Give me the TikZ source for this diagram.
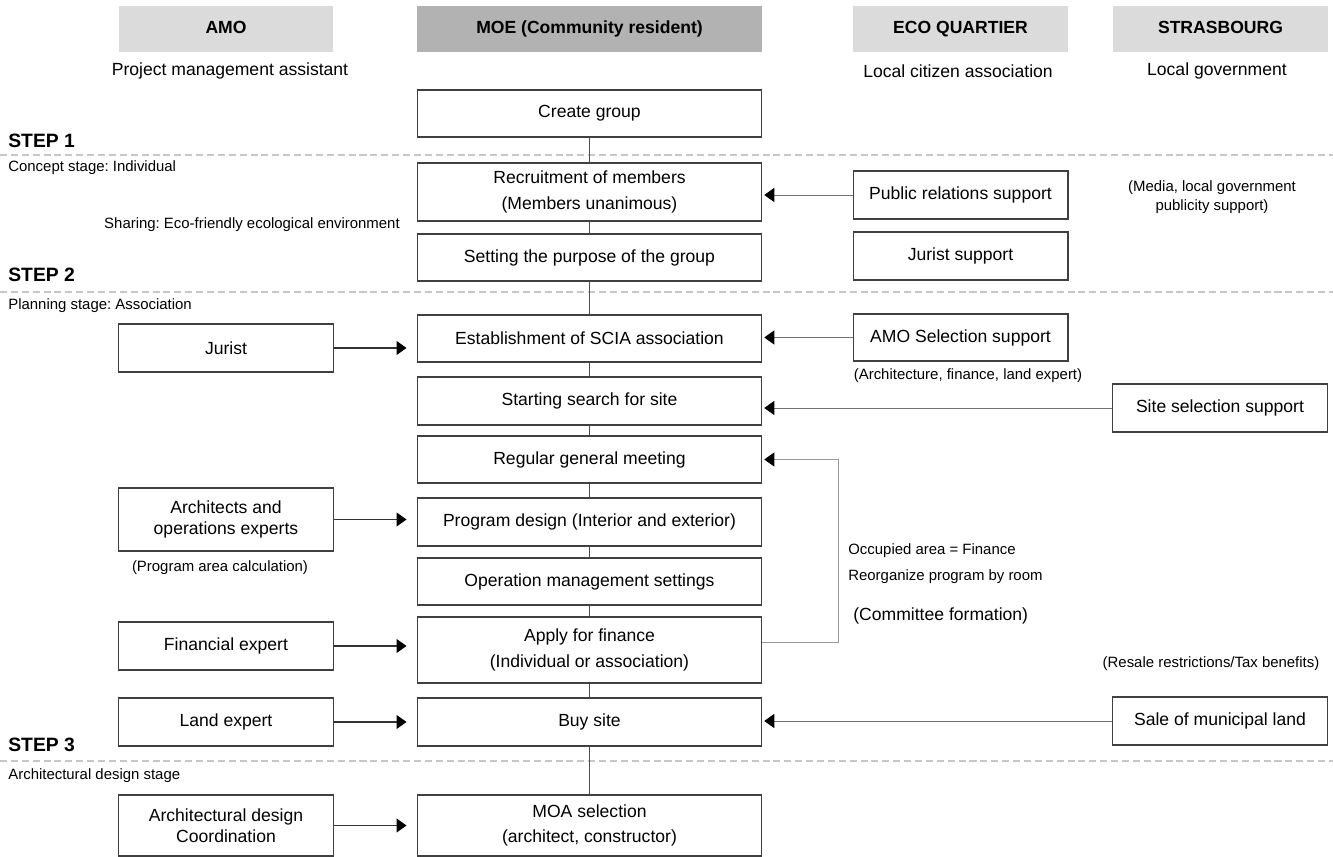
\documentclass[tikz,border=0pt]{standalone}
\usepackage{fontspec}
\setmainfont{Liberation Sans}
\usepackage{tikz}
\usetikzlibrary{positioning, arrows.meta, calc}
\frenchspacing

\begin{document}
\begin{tikzpicture}[x=0.02cm, y=-0.02cm,
    headbox/.style={fill=black!14, minimum width=4.3cm, minimum height=0.92cm, inner sep=0pt, text height=7.5pt, text depth=2pt, font=\fontsize{10}{12}\selectfont\bfseries},
    mainbox/.style={draw=black!75, line width=0.6pt, minimum width=6.9cm, minimum height=0.94cm, align=center, inner sep=1pt, font=\fontsize{10}{14.4}\selectfont},
    sidebox/.style={mainbox, minimum width=4.3cm, font=\fontsize{10}{12}\selectfont},
    subtitle/.style={font=\fontsize{10}{12}\selectfont, inner sep=0pt},
    note/.style={font=\fontsize{8.5}{10.8}\selectfont, align=center, inner sep=0pt},
    stagenote/.style={note, anchor=west},
    steplabel/.style={font=\fontsize{11}{13}\selectfont\bfseries, anchor=west, inner sep=0pt},
    sep/.style={draw=black!22, line width=0.6pt, dash pattern=on 4pt off 2.2pt},
    link/.style={draw=black!70, line width=0.5pt},
    fromright/.style={draw=black!55, line width=0.5pt, -{Triangle[length=0.2cm, width=0.28cm, color=black]}, shorten >=1pt},
    fromleft/.style={draw=black!80, line width=0.6pt, -{Triangle[length=0.2cm, width=0.28cm, color=black]}, shorten >=0.2cm}]

  \useasboundingbox (0,0) rectangle (1333,857);

  % column headers
  \node[headbox] (hamo) at (226,29) {AMO};
  \node[headbox, fill=black!30, minimum width=6.9cm] (hmoe) at (589.5,29) {MOE (Community resident)};
  \node[headbox] (heco) at (960.5,29) {ECO QUARTIER};
  \node[headbox] (hstr) at (1220.5,29) {STRASBOURG};
  \node[subtitle] (samo) at (230,71) {Project management assistant};
  \node[subtitle] (seco) at (958,71) {Local citizen association};
  \node[subtitle] (sstr) at (1217,71) {Local government};

  % stage separators
  \draw[sep] (0,155) -- (1333,155);
  \draw[sep] (0,292) -- (1333,292);
  \draw[sep] (0,761) -- (1333,761);
  \node[steplabel] (step1) at (8,141) {STEP 1};
  \node[steplabel] (step2) at (8,274.5) {STEP 2};
  \node[steplabel] (step3) at (8,744.5) {STEP 3};
  \node[stagenote] (stage1) at (8,168) {Concept stage: Individual};
  \node[stagenote] (stage2) at (8,306) {Planning stage: Association};
  \node[stagenote] (stage3) at (8,776) {Architectural design stage};
  \node[note] (sharing) at (252,225) {Sharing: Eco-friendly ecological environment};

  % MOE column
  \node[mainbox] (create) at (589.5,113.5) {Create group};
  \node[mainbox, minimum height=1.16cm] (recruit) at (589.5,192) {Recruitment of members\\(Members unanimous)};
  \node[mainbox] (purpose) at (589.5,257.5) {Setting the purpose of the group};
  \node[mainbox] (scia) at (589.5,338.5) {Establishment of SCIA association};
  \node[mainbox, minimum height=0.96cm] (search) at (589.5,401) {Starting search for site};
  \node[mainbox] (meeting) at (589.5,459.5) {Regular general meeting};
  \node[mainbox, minimum height=0.96cm] (progdesign) at (589.5,522) {Program design (Interior and exterior)};
  \node[mainbox] (opmgmt) at (589.5,581.5) {Operation management settings};
  \node[mainbox, minimum height=1.32cm] (finance) at (589.5,650) {Apply for finance\\(Individual or association)};
  \node[mainbox, minimum height=0.96cm] (buysite) at (589.5,722) {Buy site};
  \node[mainbox, minimum height=1.22cm] (moa) at (589.5,825.5) {MOA selection\\(architect, constructor)};

  \draw[link] (create) -- (recruit);
  \draw[link] (recruit) -- (purpose);
  \draw[link] (purpose) -- (scia);
  \draw[link] (scia) -- (search);
  \draw[link] (search) -- (meeting);
  \draw[link] (meeting) -- (progdesign);
  \draw[link] (progdesign) -- (opmgmt);
  \draw[link] (opmgmt) -- (finance);
  \draw[link] (finance) -- (buysite);
  \draw[link] (buysite) -- (moa);

  % AMO column
  \node[sidebox, minimum height=0.96cm] (jurist) at (226,348) {Jurist};
  \node[sidebox, minimum height=1.26cm] (architects) at (226,519.5) {Architects and\\operations experts};
  \node[note] (areacalc) at (220,568) {(Program area calculation)};
  \node[sidebox, minimum height=0.96cm] (finexp) at (226,646) {Financial expert};
  \node[sidebox, minimum height=0.96cm] (landexp) at (226,722) {Land expert};
  \node[sidebox, minimum height=1.22cm] (archcoord) at (226,825.5) {Architectural design\\Coordination};

  \draw[fromleft] (jurist.east) -- (jurist.east -| scia.west);
  \draw[fromleft] (architects.east) -- (architects.east -| progdesign.west);
  \draw[fromleft] (finexp.east) -- (finexp.east -| finance.west);
  \draw[fromleft] (landexp.east) -- (landexp.east -| buysite.west);
  \draw[fromleft] (archcoord.east) -- (archcoord.east -| moa.west);

  % ECO QUARTIER and STRASBOURG columns
  \node[sidebox, minimum height=0.96cm] (prsup) at (960.5,195) {Public relations support};
  \node[sidebox, minimum height=0.96cm] (juristsup) at (960.5,256) {Jurist support};
  \node[note] (media) at (1212,197) {(Media, local government\\publicity support)};
  \node[sidebox] (amosel) at (960.5,337.5) {AMO Selection support};
  \node[note] (experts) at (968,376) {(Architecture, finance, land expert)};
  \node[sidebox, minimum height=0.96cm] (sitesel) at (1220,408) {Site selection support};
  \node[note] (resale) at (1211,664) {(Resale restrictions/Tax benefits)};
  \node[sidebox, minimum height=0.96cm] (municipal) at (1220,721) {Sale of municipal land};

  \draw[fromright] (prsup.west) -- (prsup.west -| recruit.east);
  \draw[fromright] (amosel.west) -- (amosel.west -| scia.east);
  \draw[fromright] (sitesel.west) -- (sitesel.west -| search.east);
  \draw[fromright] (municipal.west) -- (municipal.west -| buysite.east);

  % feedback loop
  \draw[fromright, draw=black!40] ([yshift=0.16cm]finance.east) -- ++(76,0) |- (meeting.east);
  \node[stagenote] (occupied) at (848,551) {Occupied area = Finance};
  \node[stagenote] (reorg) at (848,577) {Reorganize program by room};
  \node[subtitle, anchor=west] (committee) at (853,616) {(Committee formation)};
\end{tikzpicture}
\end{document}
